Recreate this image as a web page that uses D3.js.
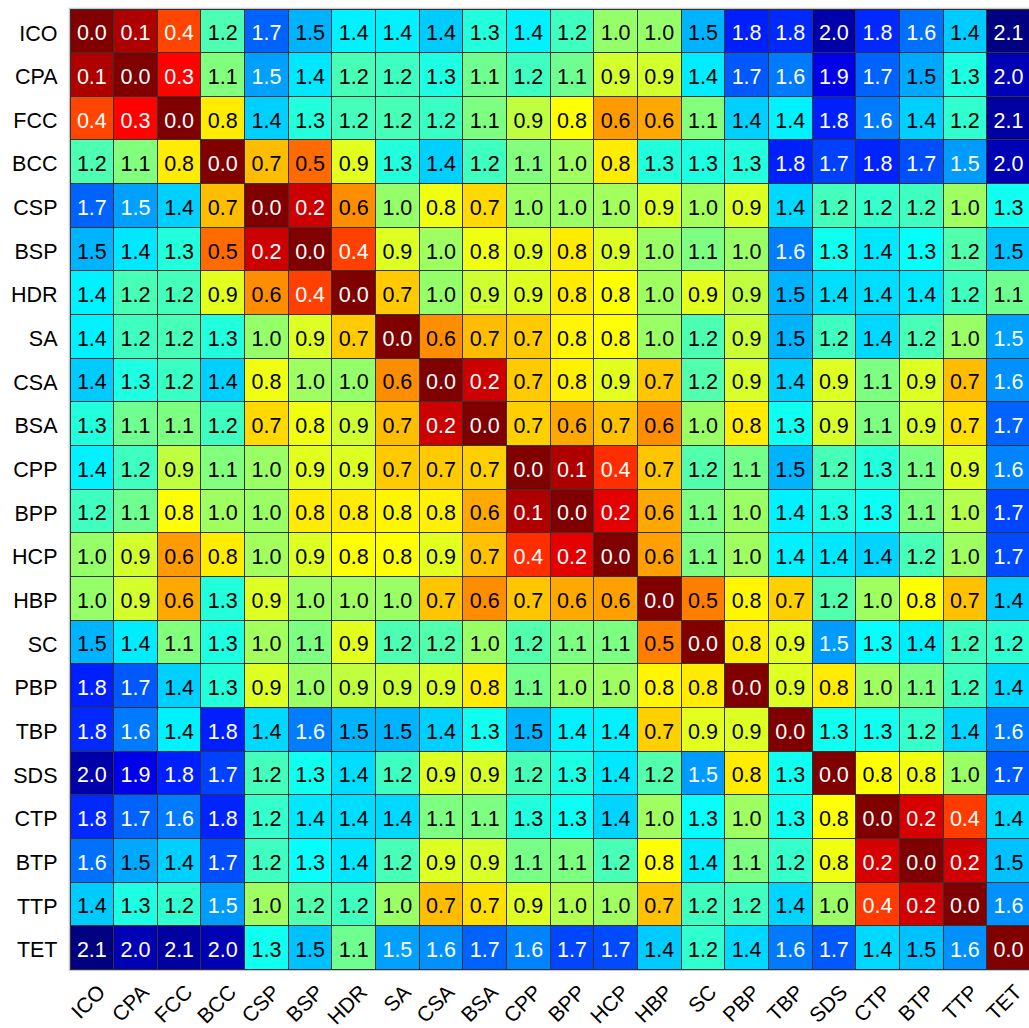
<!DOCTYPE html>
<html>
<head>
<meta charset="utf-8">
<script src="https://cdn.jsdelivr.net/npm/d3@7"></script>
<style>
  html, body { margin: 0; padding: 0; background: #fff; }
  svg { display: block; }
  text { font-family: "Liberation Sans", Arial, Helvetica, sans-serif; }
</style>
</head>
<body>
<svg id="chart" width="1029" height="1028"></svg>
<script>
// Structure labels (rows and columns share the same order)
const categories = ["ICO","CPA","FCC","BCC","CSP","BSP","HDR","SA","CSA","BSA","CPP","BPP","HCP","HBP","SC","PBP","TBP","SDS","CTP","BTP","TTP","TET"];

// Pairwise distance matrix, one row per structure
const rowICO = [0.00,0.10,0.41,1.17,1.66,1.49,1.36,1.36,1.44,1.26,1.36,1.20,1.02,1.02,1.49,1.80,1.78,2.04,1.78,1.63,1.44,2.13];
const rowCPA = [0.10,0.00,0.27,1.06,1.53,1.38,1.18,1.20,1.27,1.10,1.20,1.10,0.89,0.89,1.37,1.68,1.61,1.91,1.66,1.51,1.27,2.02];
const rowFCC = [0.41,0.27,0.00,0.76,1.43,1.26,1.19,1.18,1.21,1.07,0.93,0.80,0.59,0.62,1.06,1.43,1.36,1.80,1.61,1.43,1.23,2.06];
const rowBCC = [1.17,1.06,0.76,0.00,0.66,0.49,0.86,1.26,1.43,1.20,1.06,1.00,0.76,1.26,1.27,1.26,1.80,1.73,1.79,1.70,1.54,2.02];
const rowCSP = [1.66,1.53,1.43,0.66,0.00,0.16,0.56,1.02,0.83,0.72,1.01,1.01,0.99,0.87,0.99,0.87,1.41,1.19,1.22,1.20,1.00,1.30];
const rowBSP = [1.49,1.38,1.26,0.49,0.16,0.00,0.40,0.87,1.00,0.83,0.86,0.76,0.87,1.01,1.07,1.01,1.60,1.30,1.38,1.32,1.16,1.46];
const rowHDR = [1.36,1.18,1.19,0.86,0.56,0.40,0.00,0.69,1.02,0.90,0.87,0.76,0.80,1.00,0.86,0.93,1.49,1.40,1.40,1.38,1.20,1.10];
const rowSA  = [1.36,1.20,1.18,1.26,1.02,0.87,0.69,0.00,0.56,0.66,0.69,0.78,0.80,1.01,1.17,0.91,1.49,1.20,1.41,1.18,1.01,1.53];
const rowCSA = [1.44,1.27,1.21,1.43,0.83,1.00,1.02,0.56,0.00,0.16,0.69,0.77,0.86,0.68,1.16,0.88,1.43,0.87,1.07,0.87,0.66,1.56];
const rowBSA = [1.26,1.10,1.07,1.20,0.72,0.83,0.90,0.66,0.16,0.00,0.70,0.62,0.67,0.56,1.01,0.76,1.30,0.88,1.07,0.88,0.73,1.66];
const rowCPP = [1.36,1.20,0.93,1.06,1.01,0.86,0.87,0.69,0.69,0.70,0.00,0.10,0.36,0.68,1.16,1.09,1.49,1.18,1.26,1.08,0.87,1.59];
const rowBPP = [1.20,1.10,0.80,1.00,1.01,0.76,0.76,0.78,0.77,0.62,0.10,0.00,0.21,0.62,1.07,1.01,1.36,1.27,1.31,1.07,0.96,1.72];
const rowHCP = [1.02,0.89,0.59,0.76,0.99,0.87,0.80,0.80,0.86,0.67,0.36,0.21,0.00,0.60,1.07,1.00,1.36,1.38,1.42,1.18,1.00,1.71];
const rowHBP = [1.02,0.89,0.62,1.26,0.87,1.01,1.00,1.01,0.68,0.56,0.68,0.62,0.60,0.00,0.53,0.78,0.70,1.16,1.00,0.80,0.67,1.44];
const rowSC  = [1.49,1.37,1.06,1.27,0.99,1.07,0.86,1.17,1.16,1.01,1.16,1.07,1.07,0.53,0.00,0.76,0.86,1.54,1.32,1.37,1.20,1.23];
const rowPBP = [1.80,1.68,1.43,1.26,0.87,1.01,0.93,0.91,0.88,0.76,1.09,1.01,1.00,0.78,0.76,0.00,0.87,0.76,1.00,1.07,1.20,1.41];
const rowTBP = [1.78,1.61,1.36,1.80,1.41,1.60,1.49,1.49,1.43,1.30,1.49,1.36,1.36,0.70,0.86,0.87,0.00,1.30,1.30,1.22,1.42,1.61];
const rowSDS = [2.04,1.91,1.80,1.73,1.19,1.30,1.40,1.20,0.87,0.88,1.18,1.27,1.38,1.16,1.54,0.76,1.30,0.00,0.80,0.83,1.01,1.68];
const rowCTP = [1.78,1.66,1.61,1.79,1.22,1.38,1.40,1.41,1.07,1.07,1.26,1.31,1.42,1.00,1.32,1.00,1.30,0.80,0.00,0.18,0.39,1.41];
const rowBTP = [1.63,1.51,1.43,1.70,1.20,1.32,1.38,1.18,0.87,0.88,1.08,1.07,1.18,0.80,1.37,1.07,1.22,0.83,0.18,0.00,0.17,1.46];
const rowTTP = [1.44,1.27,1.23,1.54,1.00,1.16,1.20,1.01,0.66,0.73,0.87,0.96,1.00,0.67,1.20,1.20,1.42,1.01,0.39,0.17,0.00,1.56];
const rowTET = [2.13,2.02,2.06,2.02,1.30,1.46,1.10,1.53,1.56,1.66,1.59,1.72,1.71,1.44,1.23,1.41,1.61,1.68,1.41,1.46,1.56,0.00];

const matrix = [rowICO,rowCPA,rowFCC,rowBCC,rowCSP,rowBSP,rowHDR,rowSA,rowCSA,rowBSA,rowCPP,
                rowBPP,rowHCP,rowHBP,rowSC,rowPBP,rowTBP,rowSDS,rowCTP,rowBTP,rowTTP,rowTET];

// Flatten into cell records
const cells = [];
matrix.forEach((row, i) => row.forEach((v, j) => cells.push({ row: categories[i], col: categories[j], value: v })));

// Layout
const gridLeft = 70, gridTop = 9, cellSize = 43.65;
const n = categories.length;
const gridSize = n * cellSize;
const svg = d3.select("#chart");

const x = d3.scaleBand().domain(categories).range([gridLeft, gridLeft + gridSize]).padding(0);
const y = d3.scaleBand().domain(categories).range([gridTop, gridTop + gridSize]).padding(0);

// Classic "jet" colour ramp, t in [0,1]
function jet(t) {
  const c = v => Math.max(0, Math.min(1, v));
  const r = c(1.5 - Math.abs(4 * t - 3));
  const g = c(1.5 - Math.abs(4 * t - 2));
  const b = c(1.5 - Math.abs(4 * t - 1));
  return d3.rgb(Math.round(r * 255), Math.round(g * 255), Math.round(b * 255)).formatHex();
}
const vmax = d3.max(cells, d => d.value);
// small distances are red, large are dark blue
const color = d3.scaleSequential(jet).domain([vmax, 0]);
const lightText = v => v < 0.45 || v > 1.515;
const fmt = d3.format(".1f");

// Light axis frame just outside the grid
svg.append("rect")
  .attr("x", gridLeft - 0.5).attr("y", gridTop - 0.5)
  .attr("width", gridSize + 1).attr("height", gridSize + 1.5)
  .attr("fill", "none")
  .attr("stroke", "#c8c8c8")
  .attr("stroke-width", 1.5);

const plot = svg.append("g");

plot.selectAll("rect.cell")
  .data(cells)
  .join("rect")
  .attr("class", "cell")
  .attr("x", d => x(d.col))
  .attr("y", d => y(d.row))
  .attr("width", x.bandwidth())
  .attr("height", y.bandwidth())
  .attr("fill", d => color(d.value))
  .attr("stroke", "#333")
  .attr("stroke-width", 1)
  .attr("shape-rendering", "crispEdges");

plot.selectAll("text.val")
  .data(cells)
  .join("text")
  .attr("class", "val")
  .attr("x", d => x(d.col) + x.bandwidth() / 2)
  .attr("y", d => y(d.row) + y.bandwidth() / 2)
  .attr("dy", "0.44em")
  .attr("text-anchor", "middle")
  .attr("font-size", 21.5)
  .attr("fill", d => lightText(d.value) ? "#fff" : "#000")
  .text(d => fmt(d.value));

// Row labels
const yAxis = svg.append("g")
  .attr("transform", `translate(${gridLeft},0)`)
  .call(d3.axisLeft(y).tickSize(0).tickPadding(12.5));
yAxis.select(".domain").remove();
yAxis.selectAll("text")
  .attr("font-size", 21.5)
  .attr("fill", "#000")
  .attr("dy", "0.45em")
  .style("font-family", '"Liberation Sans", Arial, sans-serif');

// Column labels, rotated
const xAxis = svg.append("g")
  .attr("transform", `translate(0,${gridTop + gridSize})`)
  .call(d3.axisBottom(x).tickSize(0));
xAxis.select(".domain").remove();
xAxis.selectAll("text")
  .attr("font-size", 21)
  .attr("fill", "#000")
  .style("font-family", '"Liberation Sans", Arial, sans-serif')
  .attr("text-anchor", "end")
  .attr("x", 0)
  .attr("y", 0)
  .attr("dy", "0.35em")
  .attr("transform", "translate(9.5,19) rotate(-45)");
</script>
</body>
</html>
